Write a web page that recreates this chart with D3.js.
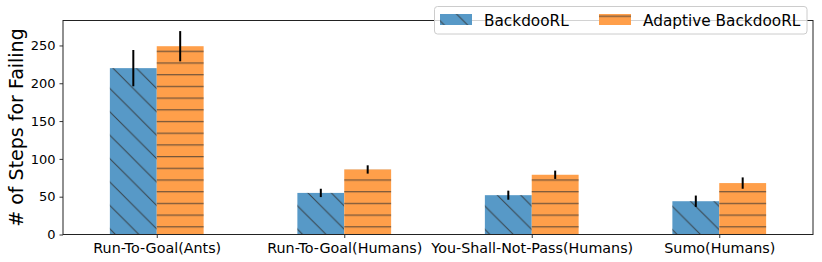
<!DOCTYPE html>
<html>
<head>
<meta charset="utf-8">
<script src="https://cdn.jsdelivr.net/npm/d3@7"></script>
<style>
  body { margin: 0; background: #fff; }
  text { font-family: "DejaVu Sans", sans-serif; }
</style>
</head>
<body>
<svg id="chart"></svg>
<script>
// data
var categories = ["Run-To-Goal(Ants)", "Run-To-Goal(Humans)", "You-Shall-Not-Pass(Humans)", "Sumo(Humans)"];
var backdoorMean = [220, 55, 52, 44];
var backdoorErr = [24, 5.5, 6, 7.5];
var adaptiveMean = [249, 86, 79, 68];
var adaptiveErr = [20, 5.5, 5.5, 7.5];
var yTicks = [0, 50, 100, 150, 200, 250];
var seriesNames = ["BackdooRL", "Adaptive BackdooRL"];

var W = 822, H = 262;
// plot box (note: "top" is a reserved window name, so use plotTop etc.)
var plotLeft = 63, plotRight = 813, plotTop = 20.5, plotBottom = 234.5;
var barW = 0.25;

var svg = d3.select("#chart").attr("width", W).attr("height", H);

// hatch patterns
var defs = svg.append("defs");
var diag = defs.append("pattern")
  .attr("id", "hatchDiag")
  .attr("patternUnits", "userSpaceOnUse")
  .attr("width", 23.4).attr("height", 23.4)
  .attr("patternTransform", "translate(0,2)");
diag.append("path")
  .attr("d", "M-3,-3L26.4,26.4M-3,20.4L3,26.4M20.4,-3L26.4,3")
  .attr("stroke", "#333").attr("stroke-opacity", 0.85).attr("stroke-width", 1);

var horiz = defs.append("pattern")
  .attr("id", "hatchHoriz")
  .attr("patternUnits", "userSpaceOnUse")
  .attr("width", 10).attr("height", 11.7);
horiz.append("path")
  .attr("d", "M0,4.6H10")
  .attr("stroke", "#333").attr("stroke-opacity", 0.85).attr("stroke-width", 1);

var xScale = d3.scaleLinear().domain([-0.5, 3.5]).range([plotLeft, plotRight]);
var yScale = d3.scaleLinear().domain([0, 283]).range([plotBottom, plotTop]);

var series = [
  {name: seriesNames[0], mean: backdoorMean, err: backdoorErr, offset: -barW / 2, color: "#5799c7", hatch: "url(#hatchDiag)"},
  {name: seriesNames[1], mean: adaptiveMean, err: adaptiveErr, offset: barW / 2, color: "#ff9f4a", hatch: "url(#hatchHoriz)"}
];

series.forEach(function(s) {
  var g = svg.append("g");
  var rows = categories.map(function(c, i) { return {i: i, v: s.mean[i], e: s.err[i]}; });
  var x0 = function(d) { return xScale(d.i + s.offset - barW / 2); };
  var bw = xScale(barW) - xScale(0);

  g.selectAll(".bar").data(rows).enter().append("rect")
    .attr("x", x0)
    .attr("y", function(d) { return yScale(d.v); })
    .attr("width", bw)
    .attr("height", function(d) { return yScale(0) - yScale(d.v); })
    .attr("fill", s.color);

  g.selectAll(".hatch").data(rows).enter().append("rect")
    .attr("x", x0)
    .attr("y", function(d) { return yScale(d.v); })
    .attr("width", bw)
    .attr("height", function(d) { return yScale(0) - yScale(d.v); })
    .attr("fill", s.hatch);

  g.selectAll(".err").data(rows).enter().append("line")
    .attr("x1", function(d) { return xScale(d.i + s.offset); })
    .attr("x2", function(d) { return xScale(d.i + s.offset); })
    .attr("y1", function(d) { return yScale(d.v - d.e); })
    .attr("y2", function(d) { return yScale(d.v + d.e); })
    .attr("stroke", "#000")
    .attr("stroke-width", 2);
});

// axes
var yAxis = d3.axisLeft(yScale).tickValues(yTicks).tickSize(3.5).tickPadding(4);
var gy = svg.append("g").attr("transform", "translate(" + plotLeft + ",0)").call(yAxis);
gy.select(".domain").remove();
gy.selectAll("text").attr("font-size", "13px").attr("fill", "#000").attr("font-family", "DejaVu Sans");
gy.selectAll("line").attr("stroke", "#000").attr("stroke-width", 0.8);

var xAxis = d3.axisBottom(xScale).tickValues([0, 1, 2, 3])
  .tickFormat(function(d) { return categories[d]; }).tickSize(3.5).tickPadding(5);
var gx = svg.append("g").attr("transform", "translate(0," + plotBottom + ")").call(xAxis);
gx.select(".domain").remove();
gx.selectAll("text").attr("font-size", "14.3px").attr("fill", "#000").attr("font-family", "DejaVu Sans");
gx.selectAll("line").attr("stroke", "#000").attr("stroke-width", 0.8);

// spines
svg.append("rect")
  .attr("x", plotLeft).attr("y", plotTop)
  .attr("width", plotRight - plotLeft).attr("height", plotBottom - plotTop)
  .attr("fill", "none").attr("stroke", "#222").attr("stroke-width", 1);

svg.append("text")
  .attr("transform", "translate(23," + ((plotTop + plotBottom) / 2) + ") rotate(-90)")
  .attr("text-anchor", "middle")
  .attr("font-size", "19px")
  .attr("fill", "#000")
  .text("# of Steps for Failing");

// legend
var lg = svg.append("g");
lg.append("rect")
  .attr("x", 434.5).attr("y", 6.5).attr("width", 372.5).attr("height", 27.5)
  .attr("rx", 3)
  .attr("fill", "#fff").attr("fill-opacity", 0.8)
  .attr("stroke", "#ccc").attr("stroke-width", 1);
var legX = [440, 599];
series.forEach(function(s, i) {
  lg.append("rect").attr("x", legX[i]).attr("y", 14).attr("width", 32).attr("height", 11).attr("fill", s.color);
  lg.append("rect").attr("x", legX[i]).attr("y", 14).attr("width", 32).attr("height", 11).attr("fill", s.hatch);
  lg.append("text")
    .attr("x", legX[i] + 44).attr("y", 25.5)
    .attr("font-size", "15.3px").attr("fill", "#000")
    .text(s.name);
});
</script>
</body>
</html>
